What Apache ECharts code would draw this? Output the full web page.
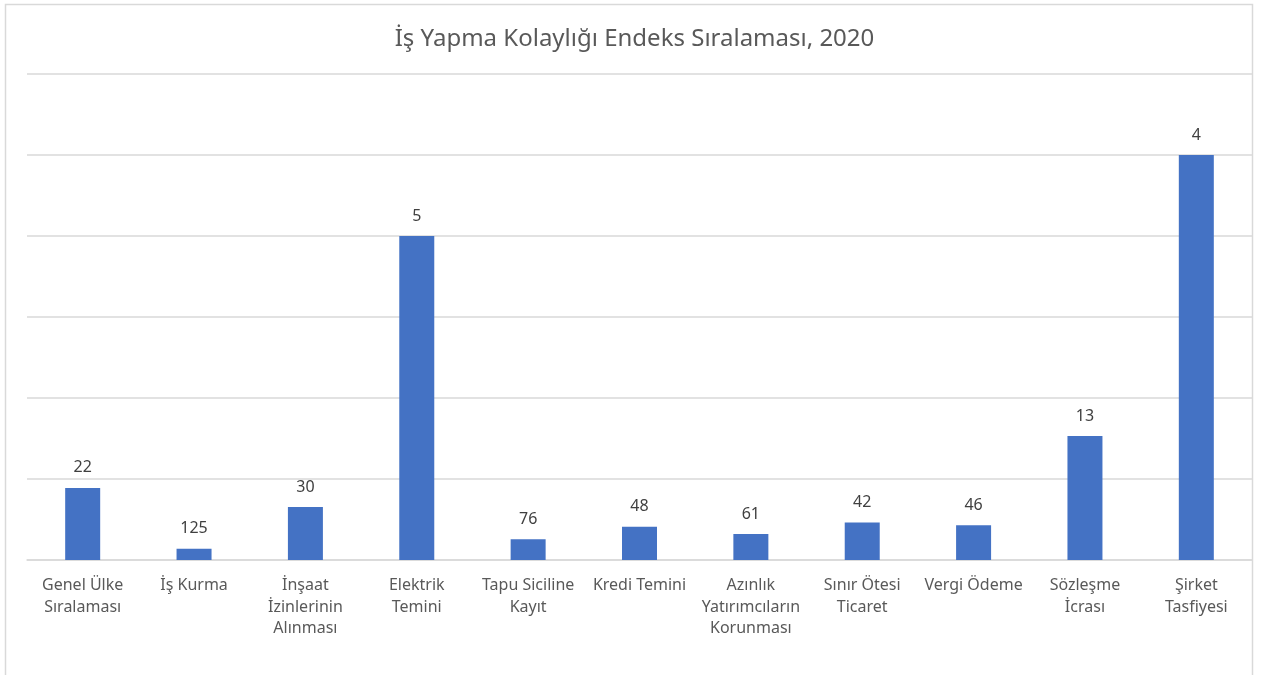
<!DOCTYPE html>
<html>
<head>
<meta charset="utf-8">
<script src="https://cdn.jsdelivr.net/npm/echarts@6/dist/echarts.min.js"></script>
<style>
  html, body { margin: 0; padding: 0; background: #fff; }
  #chart { width: 1269px; height: 675px; }
</style>
</head>
<body>
<div id="chart"></div>
<script>
// categories (x axis)
const categories = [
    'Genel Ülke\nSıralaması',
    'İş Kurma',
    'İnşaat\nİzinlerinin\nAlınması',
    'Elektrik\nTemini',
    'Tapu Siciline\nKayıt',
    'Kredi Temini',
    'Azınlık\nYatırımcıların\nKorunması',
    'Sınır Ötesi\nTicaret',
    'Vergi Ödeme',
    'Sözleşme\nİcrası',
    'Şirket\nTasfiyesi'
];
// rank shown above each bar
const ranks = [22, 125, 30, 5, 76, 48, 61, 42, 46, 13, 4];
// bar height (inverse rank scale)
const barValues = [0.0445, 0.0070, 0.0327, 0.2, 0.0128, 0.0205, 0.0160, 0.0232, 0.0214, 0.0765, 0.25];

const chart = echarts.init(document.getElementById('chart'));

const option = {
    backgroundColor: '#FFFFFF',
    animation: false,
    title: {
        text: 'İş Yapma Kolaylığı Endeks Sıralaması, 2020',
        left: 'center',
        top: 22,
        textStyle: {
            fontFamily: 'Noto Sans',
            fontSize: 24,
            fontWeight: 'normal',
            color: '#595959'
        }
    },
    graphic: [{
        type: 'rect',
        shape: { x: 5.5, y: 4.5, width: 1247, height: 680 },
        style: { fill: 'none', stroke: '#D9D9D9', lineWidth: 1.5 },
        silent: true
    }],
    grid: {
        left: 27,
        right: 17,
        top: 74,
        bottom: 115
    },
    xAxis: {
        type: 'category',
        data: categories,
        axisTick: { show: false },
        axisLine: { lineStyle: { color: '#D9D9D9', width: 1.5 } },
        axisLabel: {
            color: '#595959',
            fontFamily: 'Noto Sans',
            fontSize: 16,
            lineHeight: 21.5,
            margin: 15,
            interval: 0
        }
    },
    yAxis: {
        type: 'value',
        min: 0,
        max: 0.3,
        interval: 0.05,
        axisLabel: { show: false },
        axisLine: { show: false },
        axisTick: { show: false },
        splitLine: { lineStyle: { color: '#D9D9D9', width: 1.5 } }
    },
    series: [{
        type: 'bar',
        data: barValues,
        barWidth: 35,
        itemStyle: { color: '#4472C4' },
        label: {
            show: true,
            position: 'top',
            distance: 12,
            color: '#404040',
            fontFamily: 'Noto Sans',
            fontSize: 16,
            formatter: function (p) {
                return ranks[p.dataIndex];
            }
        }
    }]
};

chart.setOption(option);
</script>
</body>
</html>
